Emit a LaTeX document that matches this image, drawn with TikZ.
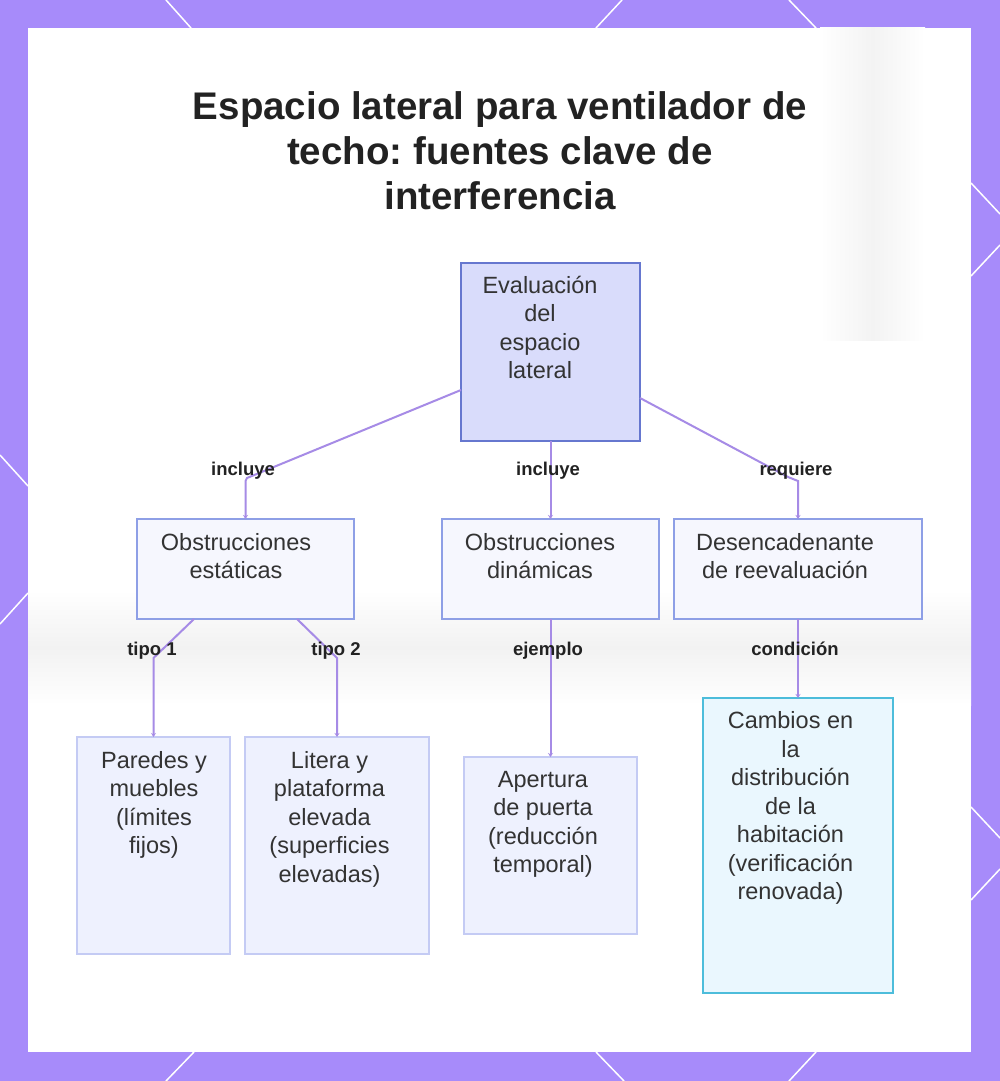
\documentclass[tikz,border=0pt]{standalone}
\usepackage{fontspec}
\setmainfont{Liberation Sans}
\usetikzlibrary{arrows.meta}
\definecolor{framec}{HTML}{A78BFA}
\definecolor{edgec}{HTML}{A68BE6}
\definecolor{txtc}{HTML}{333333}
\definecolor{titc}{HTML}{222222}
\definecolor{rootfill}{HTML}{D9DCFB}
\definecolor{rootdraw}{HTML}{6677CF}
\definecolor{midfill}{HTML}{F6F7FE}
\definecolor{middraw}{HTML}{8E9FE6}
\definecolor{lowfill}{HTML}{EEF1FE}
\definecolor{lowdraw}{HTML}{C4CBF4}
\definecolor{cyanfill}{HTML}{EAF7FE}
\definecolor{cyandraw}{HTML}{4DBDDB}
\definecolor{bgshade}{HTML}{F2F2F2}
\definecolor{bgshadeb}{HTML}{F3F3F3}
\frenchspacing
\tikzset{
  boxbase/.style={rectangle, inner sep=0pt, outer sep=0pt, line width=2pt},
  rootbox/.style={boxbase, fill=rootfill, draw=rootdraw},
  midbox/.style={boxbase, fill=midfill, draw=middraw},
  lowbox/.style={boxbase, fill=lowfill, draw=lowdraw},
  cyanbox/.style={boxbase, fill=cyanfill, draw=cyandraw},
  txt/.style={anchor=north, inner sep=0pt, align=center, text=txtc,
    font=\fontsize{23.5}{28.5}\selectfont},
  lbl/.style={anchor=base, inner sep=0pt, text=titc,
    font=\fontsize{18.5}{22}\selectfont\bfseries},
  edge/.style={draw=edgec, line width=2pt, -{Stealth[length=4pt,width=5pt]}},
  hexline/.style={draw=white, line width=1.5pt}
}
\begin{document}
\begin{tikzpicture}[x=1pt,y=-1pt]
\useasboundingbox (0,0) rectangle (1000,1081);
% frame
\fill[framec] (0,0) rectangle (1000,1081);
\fill[white] (28,28) rectangle (971,1052);
% faint background photo (soft)
\shade[top color=white, bottom color=white, middle color=bgshade] (28,590) rectangle (971,705);
\shade[left color=white, right color=white, middle color=bgshadeb] (820,28) rectangle (925,340);
% hex lines in the frame
\draw[hexline] (166,0) -- (191,28);
\draw[hexline] (622,0) -- (596,28);
\draw[hexline] (789,0) -- (816,28);
\draw[hexline] (194,1052) -- (166,1081);
\draw[hexline] (596,1052) -- (624,1081);
\draw[hexline] (816,1052) -- (789,1081);
\draw[hexline] (0,455) -- (28,486);
\draw[hexline] (28,593) -- (0,624);
\draw[hexline] (971,183) -- (1000,214);
\draw[hexline] (1000,245) -- (971,276);
\draw[hexline] (971,807) -- (1000,838);
\draw[hexline] (1000,869) -- (971,900);
% title
\node[anchor=north, inner sep=0pt, align=center, text=titc,
  font=\fontsize{38.5}{45}\selectfont\bfseries] (title) at (500,87.5)
  {\strut Espacio lateral para ventilador de\\techo: fuentes clave de\\interferencia};
% boxes
\node[rootbox, minimum width=179pt, minimum height=178pt] (root) at (550.5,352) {};
\node[midbox, minimum width=217pt, minimum height=100pt] (static) at (245.5,569) {};
\node[midbox, minimum width=217pt, minimum height=100pt] (dynamic) at (550.5,569) {};
\node[midbox, minimum width=248pt, minimum height=100pt] (trigger) at (798,569) {};
\node[lowbox, minimum width=153pt, minimum height=217pt] (paredes) at (153.5,845.5) {};
\node[lowbox, minimum width=184pt, minimum height=217pt] (litera) at (337,845.5) {};
\node[lowbox, minimum width=173pt, minimum height=177pt] (apertura) at (550.5,845.5) {};
\node[cyanbox, minimum width=190pt, minimum height=295pt] (cambios) at (798,845.5) {};
% box texts
\node[txt] (rootT) at (540,273.05) {\strut Evaluación\\del\\espacio\\lateral};
\node[txt] (staticT) at (236,530.05) {\strut Obstrucciones\\estáticas};
\node[txt] (dynamicT) at (540,530.05) {\strut Obstrucciones\\dinámicas};
\node[txt] (triggerT) at (785,530.05) {\strut Desencadenante\\de reevaluación};
\node[txt] (paredesT) at (154,748.05) {\strut Paredes y\\muebles\\(límites\\fijos)};
\node[txt] (literaT) at (329.5,748.05) {\strut Litera y\\plataforma\\elevada\\(superficies\\elevadas)};
\node[txt] (aperturaT) at (543,767.05) {\strut Apertura\\de puerta\\(reducción\\temporal)};
\node[txt] (cambiosT) at (790.5,708.55) {\strut Cambios en\\la\\distribución\\de la\\habitación\\(verificación\\renovada)};
% connectors
\draw[edge] ([yshift=-38pt]root.west) -- (247,478) -- (245.5,481) -- (static.north);
\draw[edge] (root.south) -- (dynamic.north);
\draw[edge] ([yshift=-46pt]root.east) -- (788,477) -- (798,481) -- (trigger.north);
\draw[edge] ([xshift=-51.5pt]static.south) -- (153.5,658) -- (paredes.north);
\draw[edge] ([xshift=51.5pt]static.south) -- (337,658) -- (litera.north);
\draw[edge] (dynamic.south) -- (apertura.north);
\draw[edge] (trigger.south) -- (cambios.north);
% connector labels
\node[lbl] (l1) at (243,475) {incluye};
\node[lbl] (l2) at (548,475) {incluye};
\node[lbl] (l3) at (796,475) {requiere};
\node[lbl] (l4) at (152,655) {tipo 1};
\node[lbl] (l5) at (336,655) {tipo 2};
\node[lbl] (l6) at (548,655) {ejemplo};
\node[lbl] (l7) at (795,655) {condición};
\end{tikzpicture}
\end{document}
